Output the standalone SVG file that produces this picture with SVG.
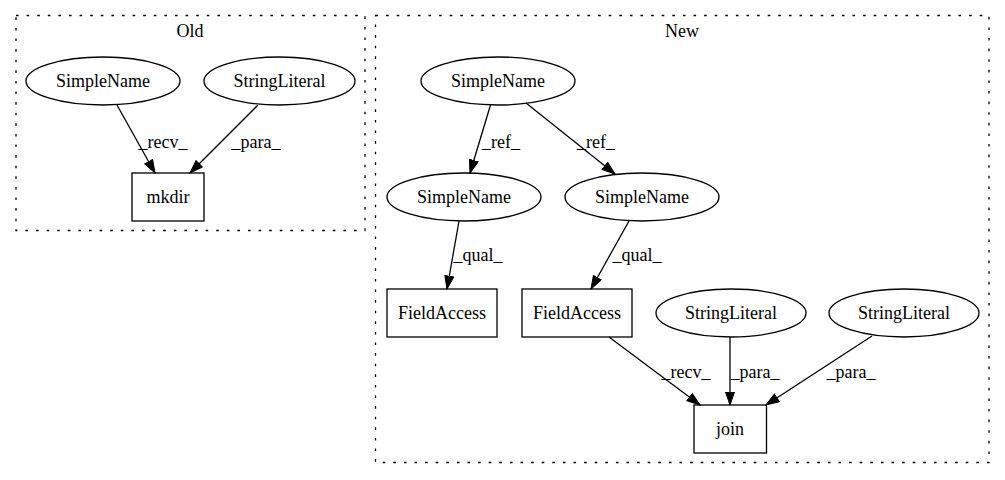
<svg xmlns="http://www.w3.org/2000/svg" width="1005" height="480" viewBox="0 0 1005 480">
<style>
text { font-family: "Liberation Serif", "Times New Roman", serif; font-size: 18px; fill: #000; text-anchor: middle; }
.cluster { fill: none; stroke: #000; stroke-width: 1.3; stroke-dasharray: 2.6 8; }
.node { fill: none; stroke: #000; stroke-width: 1.3; }
.edge { fill: none; stroke: #000; stroke-width: 1.3; marker-end: url(#arrow); }
</style>
<defs>
<marker id="arrow" markerUnits="userSpaceOnUse" markerWidth="15" markerHeight="11" refX="13.5" refY="5" orient="auto">
<path d="M0.5,0.5 L13.5,5 L0.5,9.5 Z" fill="#000" stroke="#000" stroke-width="1"/>
</marker>
</defs>
<rect width="1005" height="480" fill="#fff"/>
<g id="cluster_old">
<rect class="cluster" x="16" y="15.5" width="349" height="215"/>
<text x="190" y="37">Old</text>
</g>
<g id="cluster_new">
<rect class="cluster" x="375.5" y="15.5" width="613.5" height="447"/>
<text x="682" y="37">New</text>
</g>
<g id="old_simplename">
<ellipse class="node" cx="103" cy="81" rx="77" ry="24"/>
<text x="103" y="87">SimpleName</text>
</g>
<g id="old_stringliteral">
<ellipse class="node" cx="279.5" cy="81" rx="75.5" ry="24"/>
<text x="279.5" y="87">StringLiteral</text>
</g>
<g id="old_mkdir">
<rect class="node" x="132" y="173" width="72" height="48"/>
<text x="168" y="203">mkdir</text>
</g>
<g id="new_simplename_top">
<ellipse class="node" cx="498" cy="81" rx="77" ry="24"/>
<text x="498" y="87">SimpleName</text>
</g>
<g id="new_simplename_left">
<ellipse class="node" cx="464" cy="197" rx="77" ry="24"/>
<text x="464" y="203">SimpleName</text>
</g>
<g id="new_simplename_right">
<ellipse class="node" cx="642" cy="197" rx="77" ry="24"/>
<text x="642" y="203">SimpleName</text>
</g>
<g id="new_fieldaccess_left">
<rect class="node" x="387" y="289" width="110" height="48"/>
<text x="442" y="319">FieldAccess</text>
</g>
<g id="new_fieldaccess_right">
<rect class="node" x="522" y="289" width="110" height="48"/>
<text x="577" y="319">FieldAccess</text>
</g>
<g id="new_stringliteral_mid">
<ellipse class="node" cx="731" cy="313" rx="75" ry="24"/>
<text x="731" y="319">StringLiteral</text>
</g>
<g id="new_stringliteral_right">
<ellipse class="node" cx="904" cy="313" rx="75" ry="24"/>
<text x="904" y="319">StringLiteral</text>
</g>
<g id="new_join">
<rect class="node" x="694" y="405" width="72.5" height="48"/>
<text x="730" y="435">join</text>
</g>
<g id="connectors">
<line class="edge" x1="117" y1="105" x2="155" y2="173"/>
<text x="163" y="148">_recv_</text>
<line class="edge" x1="258" y1="105" x2="190" y2="173"/>
<text x="256" y="148">_para_</text>
<line class="edge" x1="490.5" y1="105" x2="470" y2="173"/>
<text x="501" y="148">_ref_</text>
<line class="edge" x1="526" y1="103" x2="615" y2="174"/>
<text x="596" y="148">_ref_</text>
<line class="edge" x1="459" y1="221" x2="447" y2="289"/>
<text x="478" y="261">_qual_</text>
<line class="edge" x1="629" y1="221" x2="591" y2="289"/>
<text x="637" y="261">_qual_</text>
<line class="edge" x1="609" y1="337" x2="700" y2="405"/>
<text x="686" y="378">_recv_</text>
<line class="edge" x1="730" y1="337" x2="730" y2="405"/>
<text x="755" y="378">_para_</text>
<line class="edge" x1="872" y1="336" x2="766" y2="405"/>
<text x="851" y="378">_para_</text>
</g>
</svg>
